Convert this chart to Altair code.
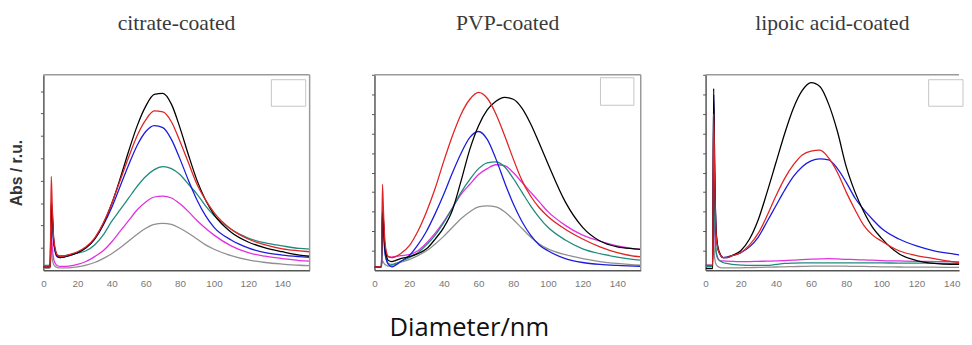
import altair as alt
import pandas as pd

# shared diameter grid (nm)
X = [0, 3, 4, 4.6, 5.2, 6, 7, 8, 10, 12, 15, 20, 25, 30, 35, 40, 45, 50, 55, 60,
     65, 70, 75, 80, 85, 90, 95, 100, 110, 120, 130, 140, 150, 156]
XTICKS = [0, 20, 40, 60, 80, 100, 120, 140]
SERIES = ["gray", "magenta", "teal", "blue", "black", "red"]
COLORS = ["#8f8f8f", "#e030e0", "#1f8a7c", "#1c1cdc", "#000000", "#e02424"]
TITLES = ["citrate-coated", "PVP-coated", "lipoic acid-coated"]

# citrate-coated
CIT_BLACK = [0.017, 0.017, 0.02, 0.35, 0.30, 0.16, 0.10, 0.075, 0.065, 0.068, 0.075, 0.09, 0.115, 0.16, 0.235, 0.34, 0.47, 0.61, 0.74, 0.84, 0.90, 0.905, 0.85, 0.73, 0.59, 0.46, 0.36, 0.285, 0.195, 0.145, 0.115, 0.095, 0.078, 0.072]
CIT_RED = [0.017, 0.017, 0.02, 0.48, 0.33, 0.17, 0.11, 0.08, 0.07, 0.072, 0.08, 0.095, 0.12, 0.165, 0.24, 0.34, 0.46, 0.58, 0.69, 0.77, 0.815, 0.81, 0.76, 0.66, 0.55, 0.44, 0.36, 0.295, 0.21, 0.16, 0.13, 0.11, 0.10, 0.095]
CIT_BLUE = [0.017, 0.017, 0.02, 0.29, 0.26, 0.15, 0.09, 0.07, 0.065, 0.068, 0.075, 0.09, 0.115, 0.16, 0.23, 0.32, 0.43, 0.54, 0.64, 0.71, 0.74, 0.73, 0.67, 0.57, 0.46, 0.36, 0.28, 0.22, 0.155, 0.115, 0.09, 0.078, 0.07, 0.066]
CIT_TEAL = [0.025, 0.025, 0.028, 0.35, 0.28, 0.15, 0.10, 0.08, 0.075, 0.075, 0.08, 0.088, 0.10, 0.13, 0.18, 0.25, 0.31, 0.37, 0.43, 0.48, 0.515, 0.53, 0.52, 0.49, 0.44, 0.39, 0.33, 0.28, 0.21, 0.165, 0.14, 0.125, 0.112, 0.108]
CIT_MAGENTA = [0.017, 0.017, 0.02, 0.20, 0.12, 0.06, 0.035, 0.025, 0.02, 0.02, 0.022, 0.03, 0.045, 0.07, 0.10, 0.145, 0.20, 0.255, 0.31, 0.35, 0.375, 0.38, 0.37, 0.34, 0.30, 0.255, 0.215, 0.18, 0.125, 0.09, 0.072, 0.06, 0.05, 0.047]
CIT_GRAY = [0.01, 0.01, 0.012, 0.12, 0.06, 0.03, 0.02, 0.015, 0.012, 0.012, 0.013, 0.018, 0.027, 0.04, 0.06, 0.085, 0.115, 0.15, 0.185, 0.215, 0.235, 0.24, 0.235, 0.215, 0.19, 0.16, 0.13, 0.108, 0.075, 0.053, 0.04, 0.032, 0.026, 0.024]

# PVP-coated
PVP_BLACK = [0.017, 0.017, 0.02, 0.30, 0.25, 0.12, 0.07, 0.05, 0.045, 0.05, 0.06, 0.07, 0.085, 0.11, 0.16, 0.22, 0.31, 0.46, 0.62, 0.74, 0.82, 0.865, 0.885, 0.875, 0.83, 0.75, 0.65, 0.545, 0.35, 0.22, 0.15, 0.12, 0.11, 0.105]
PVP_RED = [0.017, 0.017, 0.02, 0.44, 0.30, 0.15, 0.09, 0.07, 0.065, 0.07, 0.085, 0.125, 0.20, 0.30, 0.42, 0.56, 0.69, 0.80, 0.875, 0.91, 0.88, 0.80, 0.69, 0.57, 0.46, 0.38, 0.32, 0.275, 0.21, 0.16, 0.12, 0.09, 0.072, 0.068]
PVP_BLUE = [0.017, 0.017, 0.02, 0.30, 0.22, 0.10, 0.05, 0.03, 0.018, 0.025, 0.045, 0.075, 0.13, 0.20, 0.29, 0.39, 0.50, 0.60, 0.68, 0.71, 0.67, 0.57, 0.45, 0.34, 0.25, 0.18, 0.13, 0.10, 0.06, 0.04, 0.03, 0.025, 0.022, 0.02]
PVP_TEAL = [0.017, 0.017, 0.02, 0.25, 0.18, 0.09, 0.05, 0.035, 0.03, 0.035, 0.045, 0.065, 0.09, 0.13, 0.18, 0.245, 0.32, 0.40, 0.465, 0.52, 0.55, 0.555, 0.53, 0.47, 0.40, 0.33, 0.27, 0.22, 0.155, 0.11, 0.085, 0.068, 0.055, 0.05]
PVP_MAGENTA = [0.017, 0.017, 0.02, 0.33, 0.25, 0.12, 0.08, 0.07, 0.068, 0.07, 0.075, 0.08, 0.10, 0.14, 0.19, 0.25, 0.32, 0.39, 0.44, 0.49, 0.52, 0.54, 0.535, 0.50, 0.45, 0.40, 0.35, 0.30, 0.23, 0.18, 0.15, 0.125, 0.11, 0.105]
PVP_GRAY = [0.017, 0.017, 0.02, 0.05, 0.04, 0.03, 0.025, 0.022, 0.025, 0.03, 0.04, 0.055, 0.075, 0.10, 0.135, 0.175, 0.22, 0.265, 0.30, 0.325, 0.33, 0.325, 0.30, 0.26, 0.215, 0.17, 0.135, 0.11, 0.08, 0.06, 0.045, 0.035, 0.028, 0.025]

# lipoic acid-coated
LIP_BLACK = [0.01, 0.01, 0.01, 0.93, 0.50, 0.20, 0.12, 0.09, 0.065, 0.065, 0.075, 0.10, 0.16, 0.26, 0.40, 0.55, 0.70, 0.83, 0.92, 0.96, 0.94, 0.85, 0.71, 0.53, 0.40, 0.30, 0.22, 0.165, 0.085, 0.05, 0.035, 0.03, 0.03, 0.03]
LIP_RED = [0.025, 0.025, 0.025, 0.80, 0.45, 0.18, 0.11, 0.085, 0.065, 0.065, 0.075, 0.09, 0.13, 0.19, 0.28, 0.38, 0.47, 0.54, 0.59, 0.61, 0.615, 0.575, 0.50, 0.40, 0.31, 0.23, 0.18, 0.15, 0.10, 0.075, 0.06, 0.045, 0.037, 0.035]
LIP_BLUE = [0.025, 0.025, 0.025, 0.90, 0.50, 0.20, 0.11, 0.085, 0.065, 0.068, 0.075, 0.09, 0.12, 0.17, 0.25, 0.33, 0.41, 0.48, 0.53, 0.56, 0.57, 0.565, 0.52, 0.45, 0.37, 0.31, 0.26, 0.215, 0.16, 0.125, 0.10, 0.085, 0.07, 0.065]
LIP_TEAL = [0.02, 0.02, 0.02, 0.59, 0.25, 0.10, 0.06, 0.05, 0.04, 0.035, 0.03, 0.027, 0.025, 0.025, 0.025, 0.03, 0.035, 0.037, 0.038, 0.038, 0.038, 0.038, 0.038, 0.038, 0.038, 0.038, 0.038, 0.038, 0.037, 0.037, 0.036, 0.036, 0.035, 0.035]
LIP_MAGENTA = [0.025, 0.025, 0.025, 0.40, 0.20, 0.09, 0.06, 0.05, 0.048, 0.047, 0.046, 0.045, 0.045, 0.046, 0.047, 0.048, 0.05, 0.052, 0.055, 0.057, 0.058, 0.06, 0.058, 0.056, 0.055, 0.053, 0.052, 0.05, 0.048, 0.046, 0.045, 0.044, 0.043, 0.042]
LIP_GRAY = [0.008, 0.008, 0.008, 0.15, 0.06, 0.03, 0.02, 0.015, 0.012, 0.012, 0.012, 0.013, 0.014, 0.015, 0.016, 0.017, 0.018, 0.019, 0.02, 0.021, 0.022, 0.022, 0.022, 0.021, 0.02, 0.02, 0.019, 0.018, 0.017, 0.016, 0.016, 0.015, 0.015, 0.015]

PANELS = [
    [CIT_GRAY, CIT_MAGENTA, CIT_TEAL, CIT_BLUE, CIT_BLACK, CIT_RED],
    [PVP_GRAY, PVP_MAGENTA, PVP_TEAL, PVP_BLUE, PVP_BLACK, PVP_RED],
    [LIP_GRAY, LIP_MAGENTA, LIP_TEAL, LIP_BLUE, LIP_BLACK, LIP_RED],
]

H = 199
WIDTHS = [271, 271, 258]
XMAX = [156, 153.5, 144.2]
YSTEP = [0.1146, 0.1, 0.1]
BOX = [(232, 267, 5, 32), (230, 264, 3, 31), (227, 262, 5, 32)]


def make_panel(i):
    rows = []
    for name, vals in zip(SERIES, PANELS[i]):
        assert len(vals) == len(X), (i, name)
        for x, v in zip(X, vals):
            rows.append({"x": x, "v": v, "series": name})
    df = pd.DataFrame(rows)
    W = WIDTHS[i]
    yt = [round(YSTEP[i] * k, 4) for k in range(1, int(1 / YSTEP[i]) + 1)]
    yaxis_kw = dict(values=yt, labels=False, ticks=True, tickSize=3, tickColor="#555",
                    domainColor="#555", domainWidth=1.5, grid=False)
    if i == 0:
        yaxis = alt.Axis(title="Abs / r.u.", titleFont="Liberation Sans", titleFontSize=16,
                         titleFontWeight="bold", titleColor="#333", titlePadding=16, **yaxis_kw)
    else:
        yaxis = alt.Axis(title=None, **yaxis_kw)
    lines = alt.Chart(df).mark_line(clip=True, strokeWidth=1.3, interpolate="monotone").encode(
        x=alt.X("x:Q", scale=alt.Scale(domain=[0, XMAX[i]], nice=False, zero=False),
                axis=alt.Axis(values=XTICKS, title=None, ticks=False, grid=False,
                              labelFont="Liberation Sans", labelFontSize=10, labelColor="#777",
                              labelPadding=8, domainColor="#555", domainWidth=1.5, labelFlush=False)),
        y=alt.Y("v:Q", scale=alt.Scale(domain=[0, 1], nice=False), axis=yaxis),
        color=alt.Color("series:N", scale=alt.Scale(domain=SERIES, range=COLORS), legend=None),
    )
    one = pd.DataFrame({"k": [0]})
    bx = BOX[i]
    box = alt.Chart(one).mark_rect(fillOpacity=0, stroke="#c4c4c4", strokeWidth=1).encode(
        x=alt.value(bx[0]), x2=alt.value(bx[1]), y=alt.value(bx[2]), y2=alt.value(bx[3]))
    top = alt.Chart(one).mark_rule(color="#9a9a9a", strokeWidth=1.5).encode(
        x=alt.value(0), x2=alt.value(W), y=alt.value(0))
    layers = [lines, box, top]
    if i < 2:
        right = alt.Chart(one).mark_rule(color="#9a9a9a", strokeWidth=1.5).encode(
            x=alt.value(W), y=alt.value(0), y2=alt.value(H))
        layers.append(right)
    return alt.layer(*layers).properties(
        width=W, height=H,
        title=alt.TitleParams(TITLES[i], font="Liberation Serif", fontSize=22, fontWeight="normal",
                              color="#3a3a3a", offset=40, anchor="middle"))


chart = alt.hconcat(make_panel(0), make_panel(1), make_panel(2), spacing=60).properties(
    padding={"left": 0, "top": 0, "right": 0, "bottom": 0},
    title=alt.TitleParams("Diameter/nm", orient="bottom", anchor="middle", fontSize=26,
                          font="Open Sans", fontWeight="normal", color="#111", offset=27, dx=-17),
).configure_view(stroke="transparent")

chart.save("out.html", embed_options={"renderer": "svg", "actions": False})
